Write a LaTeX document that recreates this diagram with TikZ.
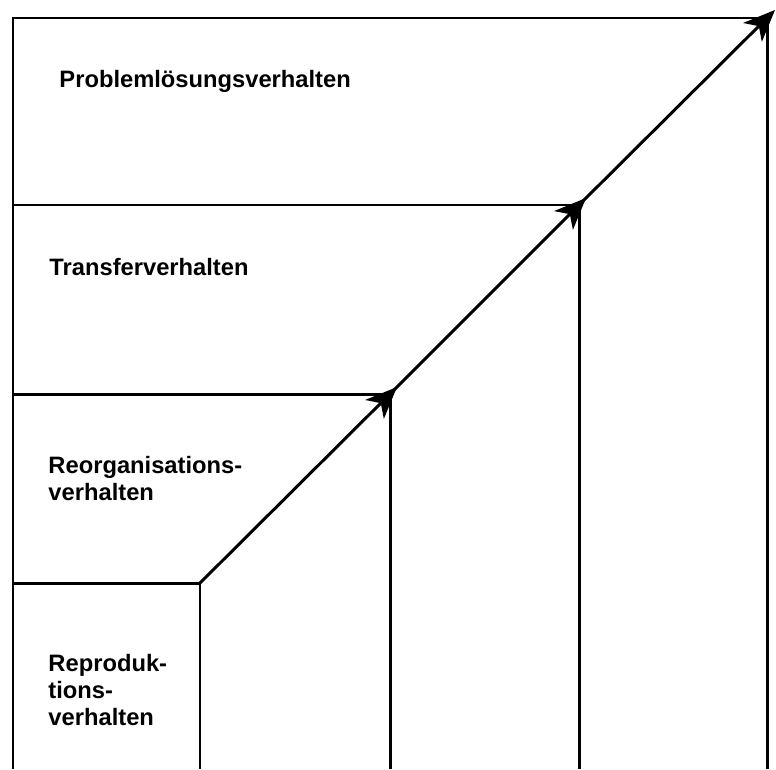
\documentclass[tikz,border=0pt]{standalone}
\usepackage{fontspec}
\setmainfont{Liberation Sans}
\usetikzlibrary{arrows.meta}

\begin{document}
\begin{tikzpicture}[x=0.02cm, y=0.02cm, line width=1.7pt,
    lbl/.style={anchor=base west, align=left, inner sep=0pt,
      font=\bfseries\fontsize{13.5}{15.3}\selectfont},
    step arrow/.style={arrows={-Stealth[length=18pt, width=15pt, inset=5pt]}}]
    \useasboundingbox (0,0) rectangle (776,769);
    % corners of the steps
    \coordinate (A) at (200,186);
    \coordinate (B) at (390,375);
    \coordinate (C) at (579,564);
    \coordinate (D) at (767,751);
    \coordinate (TL) at (13,751);
    \foreach \p/\x in {A/200,B/390,C/579,D/767} {\coordinate (\p0) at (\x,0);}
    \foreach \p/\y in {A/186,B/375,C/564} {\coordinate (\p1) at (13,\y);}
    \coordinate (BL) at (13,0);
    % arrow tips, just past the corners
    \coordinate (Bt) at (397,382);
    \coordinate (Ct) at (586,571);
    \coordinate (Dt) at (775,759);
    % frame and steps
    \draw (BL) -- (TL) -- (D) -- (D0);
    \draw (A1) -- (A) -- (A0);
    \draw (B1) -- (B) -- (B0);
    \draw (C1) -- (C) -- (C0);
    \draw[step arrow] (A) -- (Bt);
    \draw[step arrow] (B) -- (Ct);
    \draw[step arrow] (C) -- (Dt);
    \node[lbl] (prob) at (58,682) {Problemlösungsverhalten};
    \node[lbl] (trans) at (48,494) {Transferverhalten};
    \node[lbl] (reorg) at (47,269) {Reorganisations-\\verhalten};
    \node[lbl] (repro) at (47,44) {Reproduk-\\tions-\\verhalten};
\end{tikzpicture}
\end{document}
